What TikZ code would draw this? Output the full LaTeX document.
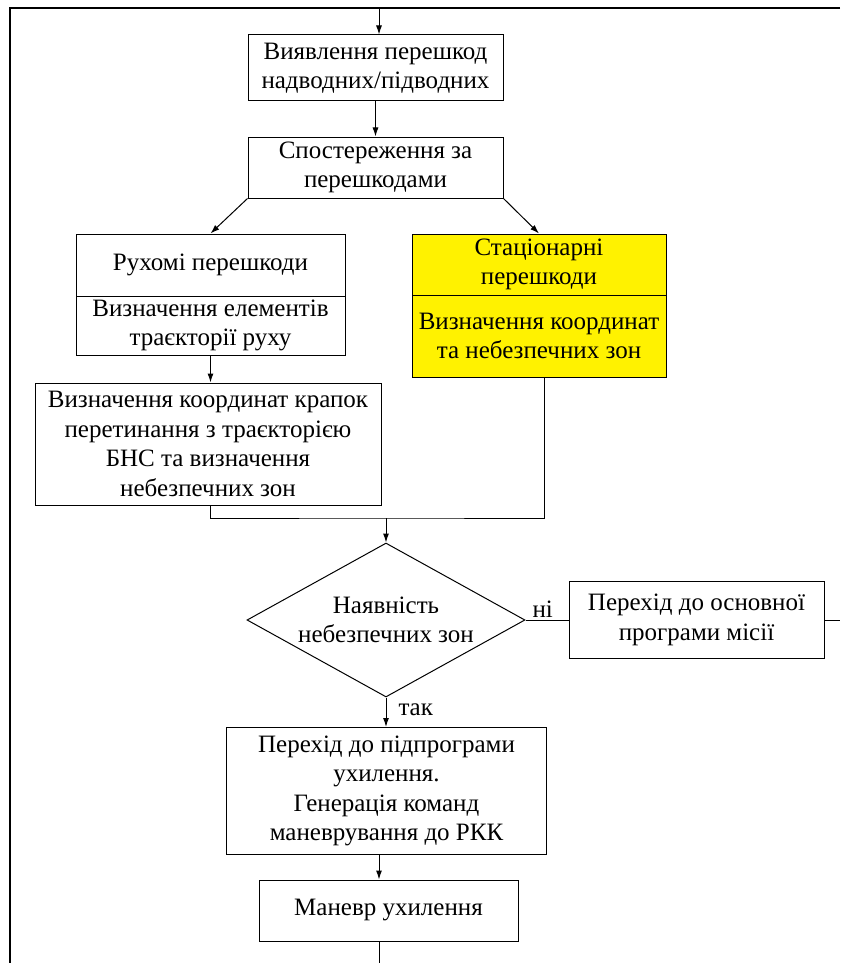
\documentclass[tikz,border=0pt]{standalone}
\usepackage{fontspec}
\setmainfont{Liberation Serif}
\newfontfamily\tnrfont{Liberation Serif}
\usetikzlibrary{shapes.geometric,arrows.meta}

\begin{document}
\begin{tikzpicture}[x=1pt, y=-1pt,
    every node/.style={font=\tnrfont\fontsize{25}{29.5}\selectfont},
    blk/.style={draw, line width=1pt, align=center, inner xsep=2pt, inner ysep=0pt},
    hot/.style={blk, fill=yellow},
    arr/.style={-{Latex[length=9pt,width=6pt]}, line width=1pt},
    lnk/.style={line width=1pt}]

  \useasboundingbox (0,0) rectangle (840,963);

  % ================= frame =================
  \coordinate (tl) at (10,8);
  \coordinate (tr) at (840,8);
  \coordinate (bl) at (10,963);
  \coordinate (in) at (379,8);            % loop enters here
  \coordinate (out) at (379,963);         % loop leaves here
  \draw[line width=1.6pt] (tr) -- (tl) -- (bl);

  % ================= boxes =================
  \node[blk, minimum width=255pt, minimum height=66pt] (det) at (375.5,68)
      {Виявлення перешкод\\надводних/підводних};
  \node[blk, minimum width=255pt, minimum height=61pt] (obs) at (375.5,167.5)
      {Спостереження за\\перешкодами};
  % moving ones
  \node[blk, minimum width=269pt, minimum height=62pt] (mov) at (210.5,265)
      {Рухомі перешкоди};
  \node[blk, minimum width=269pt, minimum height=59pt] (movtr) at (210.5,325.5)
      {Визначення елементів\\траєкторії руху};
  \node[blk, minimum width=346pt, minimum height=122pt] (cross) at (208,444)
      {Визначення координат крапок\\перетинання з траєкторією\\БНС та визначення\\небезпечних зон};
  % stationary ones
  \node[hot, minimum width=254pt, minimum height=61pt] (stat) at (539,264.5)
      {Стаціонарні\\перешкоди};
  \node[hot, minimum width=254pt, minimum height=82pt] (statzn) at (539,336)
      {Визначення координат\\та небезпечних зон};
  % decision
  \node[diamond, draw, line width=1pt, align=center, inner sep=0pt, aspect=1.8,
        minimum width=278pt, minimum height=154pt] (dec) at (386,620)
      {Наявність\\небезпечних зон};
  \node[blk, minimum width=255pt, minimum height=77pt] (main) at (696.5,620)
      {Перехід до основної\\програми місії};
  \node[blk, minimum width=320pt, minimum height=127pt] (evade) at (386.5,791)
      {Перехід до підпрограми\\ухилення.\\ Генерація команд\\маневрування до РКК};
  \node[blk, minimum width=259pt, minimum height=61pt] (man) at (388.5,910.5)
      {Маневр ухилення};

  % ================= connectors =================
  \draw[arr] (in) -- (in |- det.north);
  \draw[arr] (det.south) -- (obs.north);
  \draw[arr] (obs.south west) -- (mov.north);
  \draw[arr] (obs.south east) -- (stat.north);
  \draw[arr] (movtr.south) -- (movtr.south |- cross.north);
  \coordinate (jn) at (386,518);          % both branches meet
  \draw[lnk] (movtr.south |- cross.south) |- (jn) -| ([xshift=5pt]statzn.south);
  \draw[arr] (jn) -- (dec.north);
  \draw[lnk] (dec.east) -- node[pos=0.4, above=2pt, inner sep=0pt] (no) {ні} (main.west);
  \draw[lnk] (main.east) -- (main.east -| tr);
  \draw[arr] (dec.south) -- node[pos=0.4, right=12pt, inner sep=0pt] (yes) {так} (dec.south |- evade.north);
  \draw[arr] (evade.south -| out) -- (man.north -| out);
  \draw[lnk] (man.south -| out) -- (out);

\end{tikzpicture}
\end{document}
